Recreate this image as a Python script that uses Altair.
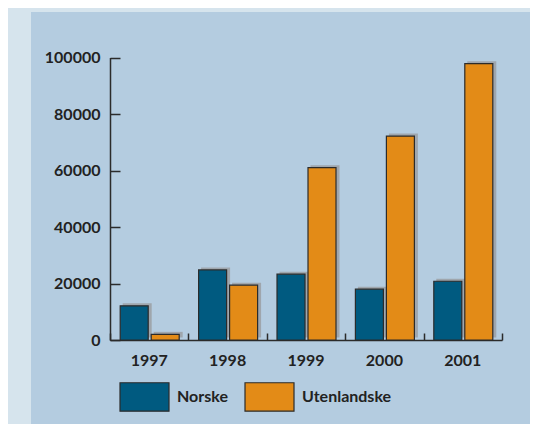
import altair as alt
import pandas as pd

years = ["1997", "1998", "1999", "2000", "2001"]
norske = [12100, 24800, 23300, 18000, 20800]
utenlandske = [2000, 19400, 61000, 72200, 97800]
series = ["Norske", "Utenlandske"]
colors = ["#005a80", "#e38b17"]
y_ticks = [0, 20000, 40000, 60000, 80000, 100000]

rows = []
for i, yr in enumerate(years):
    rows.append({"year": yr, "series": "Norske", "value": norske[i]})
    rows.append({"year": yr, "series": "Utenlandske", "value": utenlandske[i]})
df = pd.DataFrame(rows)

FONT = "Lato"
TXT = "#222222"
AX = "#2b2b2b"

W, H = 499, 412

xscale = alt.Scale(domain=years, range=[79, 471], paddingInner=0, paddingOuter=0)
yscale = alt.Scale(domain=[0, 100000], range=[328, 45.5], nice=False)
cscale = alt.Scale(domain=series, range=colors)

def layer(s, offset, shadow, xaxis=None, yaxis=None, legend=None):
    base = alt.Chart(df).transform_filter(alt.datum.series == s)
    if shadow:
        mk = base.mark_bar(width=29, xOffset=offset + 3, yOffset=-2.5, color="#9fa6ad")
        return mk.encode(
            x=alt.X("year:N", scale=xscale, axis=xaxis, sort=years),
            y=alt.Y("value:Q", scale=yscale, axis=yaxis),
        )
    mk = base.mark_bar(width=28, xOffset=offset, stroke=AX, strokeWidth=1.2)
    return mk.encode(
        x=alt.X("year:N", scale=xscale, axis=xaxis, sort=years),
        y=alt.Y("value:Q", scale=yscale, axis=yaxis),
        color=alt.Color("series:N", scale=cscale, legend=legend),
    )

x_label_axis = alt.Axis(
    orient="bottom", offset=-(H - 328), title=None, ticks=False, tickSize=0, domain=False,
    labelPadding=12, labelFont=FONT, labelFontSize=16, labelFontWeight="bold",
    labelColor=TXT, labelAngle=0, minExtent=0,
)
x_tick_axis = alt.Axis(
    orient="top", offset=-328, title=None, labels=False, ticks=True, tickSize=7,
    tickBand="extent", domain=True, domainColor=AX, tickColor=AX,
    domainWidth=1.5, tickWidth=1.5, minExtent=0,
)
y_label_axis = alt.Axis(
    orient="left", offset=-79, title=None, ticks=False, tickSize=0, domain=False,
    values=y_ticks, labelPadding=10, labelFont=FONT, labelFontSize=16,
    labelFontWeight="bold", labelColor=TXT, grid=False, format="d", minExtent=0,
)
y_tick_axis = alt.Axis(
    orient="right", offset=-(W - 79), title=None, labels=False, ticks=True, tickSize=10,
    values=y_ticks, domain=True, domainColor=AX, tickColor=AX,
    domainWidth=1.5, tickWidth=1.5, grid=False, minExtent=0,
)
legend = alt.Legend(
    orient="none", legendX=88, legendY=359, direction="horizontal", title=None,
    symbolType="M-1,-0.58L1,-0.58L1,0.58L-1,0.58Z", symbolSize=2401,
    symbolStrokeColor=AX, symbolStrokeWidth=1.2, symbolOpacity=1,
    labelFont=FONT, labelFontSize=16, labelFontWeight="bold", labelColor=TXT,
    labelOffset=7, columnPadding=14, padding=0,
)

chart = alt.layer(
    layer("Norske", -15, True, xaxis=x_label_axis, yaxis=y_label_axis),
    layer("Utenlandske", 16, True, xaxis=x_tick_axis, yaxis=y_tick_axis),
    layer("Norske", -15, False, legend=legend),
    layer("Utenlandske", 16, False, legend=legend),
).resolve_axis(x="independent", y="independent").properties(
    width=W, height=H, background="#d6e4ed",
    padding={"left": 23, "top": 4, "right": 0, "bottom": 0},
    autosize=alt.AutoSizeParams(type="none"),
).configure_view(fill="#b4cce0", stroke=None)

chart.save("out.html", embed_options={"renderer": "svg", "actions": False})
